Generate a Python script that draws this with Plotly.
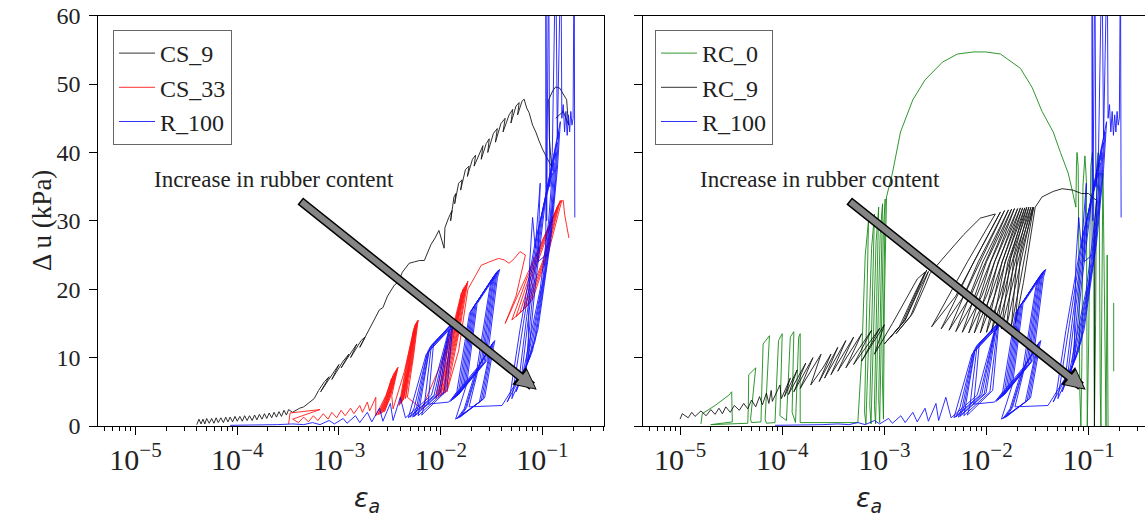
import plotly.graph_objects as go

# ---------------- data (axial strain, excess pore pressure in kPa) ----------------
cs9 = [
    (4.0e-5, 0.2), (4.2e-5, 1.0), (4.4e-5, 0.3), (4.6e-5, 1.0), (4.8e-5, 0.3), (5.0e-5, 1.1),
    (5.3e-5, 0.4), (5.6e-5, 1.1), (5.9e-5, 0.4), (6.2e-5, 1.2), (6.5e-5, 0.5), (6.9e-5, 1.2),
    (7.3e-5, 0.5), (7.7e-5, 1.3), (8.1e-5, 0.6), (8.5e-5, 1.3), (9.0e-5, 0.6), (9.5e-5, 1.4),
    (1.0e-4, 0.7), (1.06e-4, 1.4), (1.12e-4, 0.7), (1.18e-4, 1.5), (1.25e-4, 0.8), (1.32e-4, 1.5),
    (1.4e-4, 0.8), (1.48e-4, 1.6), (1.56e-4, 0.9), (1.65e-4, 1.7), (1.75e-4, 1.0), (1.85e-4, 1.8),
    (1.95e-4, 1.1), (2.06e-4, 1.9), (2.18e-4, 1.2), (2.3e-4, 2.0), (2.43e-4, 1.3), (2.57e-4, 2.1),
    (2.72e-4, 1.4), (2.88e-4, 2.3), (3.04e-4, 1.6), (3.2e-4, 2.4), (3.5e-4, 2.0), (4.1e-4, 2.6),
    (4.5e-4, 2.8), (5.0e-4, 3.4), (5.7e-4, 4.0), (6.3e-4, 5.2), (7.2e-4, 6.5), (8.0e-4, 7.2),
    (6.6e-4, 5.0), (9.0e-4, 8.0), (1.0e-3, 9.0), (8.5e-4, 6.8), (1.1e-3, 9.5), (1.25e-3, 10.5),
    (1.05e-3, 8.5), (1.35e-3, 11.0), (1.5e-3, 12.0), (1.3e-3, 10.0), (1.65e-3, 12.5), (1.8e-3, 13.0),
    (1.6e-3, 11.5), (1.9e-3, 13.5), (2.2e-3, 15.5), (2.5e-3, 17.0), (2.7e-3, 17.3), (3.0e-3, 19.0),
    (3.5e-3, 20.6), (3.8e-3, 21.0), (4.2e-3, 22.5), (4.9e-3, 23.8), (5.5e-3, 24.0), (6.2e-3, 24.2),
    (6.9e-3, 24.2), (7.5e-3, 25.5), (8.0e-3, 26.5), (8.8e-3, 27.5), (9.6e-3, 28.6), (1.08e-2, 26.0),
    (1.1e-2, 29.0), (1.2e-2, 30.5), (1.29e-2, 31.5), (1.25e-2, 30.0), (1.35e-2, 33.5), (1.41e-2, 34.0),
    (1.37e-2, 32.5), (1.5e-2, 35.5), (1.62e-2, 36.0), (1.57e-2, 34.5), (1.75e-2, 37.5), (1.9e-2, 38.0),
    (1.83e-2, 36.5), (2.05e-2, 39.0), (2.2e-2, 39.6), (2.13e-2, 38.0), (2.4e-2, 39.8), (2.6e-2, 41.0),
    (2.5e-2, 39.0), (2.8e-2, 41.3), (3.0e-2, 42.0), (2.9e-2, 40.0), (3.3e-2, 42.8), (3.6e-2, 43.5),
    (3.45e-2, 41.5), (3.9e-2, 44.2), (4.3e-2, 45.0), (4.1e-2, 43.0), (4.7e-2, 45.5), (5.1e-2, 46.3),
    (4.9e-2, 44.3), (5.5e-2, 46.8), (5.9e-2, 47.3), (5.7e-2, 45.5), (6.3e-2, 47.5), (6.6e-2, 47.8),
    (7.0e-2, 46.5), (7.4e-2, 45.8), (8.0e-2, 44.0), (8.6e-2, 43.0), (9.2e-2, 41.8), (1.0e-1, 40.5),
    (1.1e-1, 39.3), (1.23e-1, 37.9), (1.17e-1, 42.0), (1.15e-1, 47.7), (1.26e-1, 49.0), (1.35e-1, 49.6),
    (1.48e-1, 49.4), (1.62e-1, 48.5), (1.73e-1, 47.7), (1.78e-1, 45.0), (1.81e-1, 44.0), (1.6e-1, 46.0),
    (1.45e-1, 45.5), (1.35e-1, 45.0),
]

cs33 = [
    (3.2e-4, 0.3), (3.3e-4, 1.9), (6.5e-4, 2.4), (3.5e-4, 1.0), (4.0e-4, 0.5), (4.5e-4, 1.3),
    (5.0e-4, 0.6), (5.6e-4, 1.5), (6.2e-4, 0.8), (7.0e-4, 1.8), (7.8e-4, 1.0), (8.5e-4, 2.0),
    (9.5e-4, 1.2), (1.05e-3, 2.3), (1.15e-3, 1.5), (1.3e-3, 2.6), (1.4e-3, 1.8), (1.6e-3, 3.0),
    (1.7e-3, 2.0), (1.9e-3, 3.5), (2.0e-3, 2.2), (2.3e-3, 4.2),
    (2.3e-3, 1.5), (2.9e-3, 4.5), (3.3e-3, 7.0), (2.8e-3, 3.5),
    (2.4e-3, 1.6), (3.0e-3, 4.8), (3.4e-3, 7.4), (2.9e-3, 3.6),
    (2.5e-3, 1.7), (3.1e-3, 5.0), (3.5e-3, 7.8), (3.0e-3, 3.8),
    (2.6e-3, 1.8), (3.2e-3, 5.3), (3.6e-3, 8.1), (3.1e-3, 4.0),
    (2.7e-3, 2.0), (3.3e-3, 5.5), (3.7e-3, 8.4), (3.2e-3, 4.2),
    (2.8e-3, 2.1), (3.4e-3, 5.8), (3.8e-3, 8.6), (3.3e-3, 4.4),
    (3.4e-3, 2.5), (4.4e-3, 8.0), (5.4e-3, 14.0), (4.8e-3, 8.5), (3.9e-3, 3.0),
    (4.5e-3, 8.3), (5.5e-3, 14.4), (4.9e-3, 8.8), (4.0e-3, 3.2),
    (4.6e-3, 8.6), (5.6e-3, 14.8), (5.0e-3, 9.0), (4.1e-3, 3.4),
    (4.7e-3, 8.9), (5.7e-3, 15.0), (5.1e-3, 9.3), (4.2e-3, 3.6),
    (4.8e-3, 9.2), (5.8e-3, 15.2), (5.2e-3, 9.6), (4.3e-3, 3.8),
    (4.9e-3, 9.5), (5.9e-3, 15.4), (5.3e-3, 9.9), (4.5e-3, 4.0),
    (5.0e-3, 9.8), (6.0e-3, 15.5), (5.4e-3, 10.2), (4.7e-3, 4.2),
    (6.5e-3, 2.5), (1.0e-2, 9.0), (1.4e-2, 16.0), (1.6e-2, 19.5), (1.3e-2, 12.0), (9.0e-3, 4.0),
    (1.05e-2, 9.5), (1.45e-2, 16.5), (1.65e-2, 20.0), (1.35e-2, 12.5), (9.5e-3, 4.2),
    (1.1e-2, 10.0), (1.5e-2, 17.0), (1.7e-2, 20.3), (1.4e-2, 13.0), (1.0e-2, 4.4),
    (1.15e-2, 10.5), (1.55e-2, 17.5), (1.75e-2, 20.6), (1.45e-2, 13.5), (1.05e-2, 4.6),
    (1.2e-2, 11.0), (1.6e-2, 18.0), (1.8e-2, 20.9), (1.5e-2, 14.0), (1.1e-2, 4.8),
    (1.25e-2, 11.5), (1.65e-2, 18.5), (1.85e-2, 21.2), (1.55e-2, 14.5), (1.15e-2, 5.0),
    (1.5e-2, 11.0), (1.85e-2, 20.0), (2.2e-2, 22.0), (2.5e-2, 23.5), (3.0e-2, 24.0), (3.7e-2, 24.5),
    (4.2e-2, 24.3), (4.7e-2, 23.8), (5.3e-2, 24.5), (6.0e-2, 25.5), (6.8e-2, 25.0), (5.5e-2, 19.0),
    (4.3e-2, 15.0), (6.5e-2, 21.0), (9.5e-2, 26.5), (1.25e-1, 30.5), (1.4e-1, 32.0), (1.0e-1, 24.0), (6.5e-2, 17.0),
    (5.0e-2, 15.5), (7.0e-2, 21.5), (1.0e-1, 27.0), (1.3e-1, 31.0), (1.45e-1, 32.5), (1.05e-1, 24.5), (7.0e-2, 17.5),
    (5.5e-2, 16.0), (7.5e-2, 22.0), (1.05e-1, 27.5), (1.35e-1, 31.5), (1.5e-1, 33.0), (1.1e-1, 25.0), (7.5e-2, 18.0),
    (6.0e-2, 16.5), (8.0e-2, 22.5), (1.1e-1, 28.0), (1.4e-1, 32.0), (1.55e-1, 33.0), (1.15e-1, 25.5), (8.0e-2, 18.5),
    (6.5e-2, 17.0), (8.5e-2, 23.0), (1.15e-1, 28.5), (1.45e-1, 32.5), (1.6e-1, 33.0), (1.65e-1, 31.0),
    (1.72e-1, 29.5), (1.82e-1, 27.5),
]

r100 = [
    (8.5e-5, 0.1), (1.5e-4, 0.1), (2.5e-4, 0.2), (3.5e-4, 0.3), (4.5e-4, 0.2), (5.5e-4, 0.5),
    (6.5e-4, 0.2), (8.0e-4, 0.8), (9.0e-4, 0.3), (1.1e-3, 1.1), (1.2e-3, 0.4), (1.45e-3, 1.5),
    (1.6e-3, 0.5), (1.9e-3, 2.0), (2.1e-3, 0.6), (2.5e-3, 2.6), (2.7e-3, 0.7), (3.2e-3, 3.3),
    (3.4e-3, 0.8), (4.0e-3, 4.2),
    (4.5e-3, 1.2), (8.1e-3, 4.5), (1.14e-2, 13.0), (1.2e-2, 14.0), (7.2e-3, 10.5), (5.2e-3, 2.7),
    (4.8e-3, 1.2), (8.6e-3, 4.5), (1.17e-2, 13.2), (1.22e-2, 14.2), (7.4e-3, 10.7), (5.5e-3, 2.7),
    (5.0e-3, 1.3), (9.0e-3, 4.6), (1.19e-2, 13.5), (1.25e-2, 14.5), (7.5e-3, 11.0), (5.8e-3, 2.8),
    (5.3e-3, 1.3), (9.5e-3, 4.7), (1.21e-2, 13.8), (1.28e-2, 14.8), (7.7e-3, 11.2), (6.0e-3, 2.8),
    (5.5e-3, 1.4), (9.9e-3, 4.8), (1.24e-2, 14.0), (1.3e-2, 15.0), (7.8e-3, 11.5), (6.3e-3, 2.9),
    (6.0e-3, 1.5), (1.08e-2, 5.0), (1.28e-2, 14.3), (1.35e-2, 15.3), (8.1e-3, 11.8), (6.9e-3, 3.0),
    (6.5e-3, 1.6), (1.15e-2, 5.2), (1.31e-2, 14.5), (1.38e-2, 15.5), (8.5e-3, 12.0), (7.5e-3, 3.2),
    (1.2e-2, 3.5), (2.28e-2, 8.5), (3.04e-2, 20.3), (3.2e-2, 21.5), (1.92e-2, 16.5), (1.44e-2, 5.0),
    (1.25e-2, 3.6), (2.37e-2, 8.6), (3.13e-2, 20.6), (3.3e-2, 21.8), (1.98e-2, 16.8), (1.5e-2, 5.1),
    (1.3e-2, 3.8), (2.47e-2, 8.8), (3.23e-2, 20.9), (3.4e-2, 22.1), (2.04e-2, 17.1), (1.56e-2, 5.3),
    (1.35e-2, 4.0), (2.56e-2, 9.0), (3.32e-2, 21.2), (3.5e-2, 22.4), (2.1e-2, 17.4), (1.62e-2, 5.5),
    (1.4e-2, 4.2), (2.66e-2, 9.2), (3.42e-2, 21.4), (3.6e-2, 22.6), (2.16e-2, 17.6), (1.68e-2, 5.7),
    (1.45e-2, 4.4), (2.75e-2, 9.4), (3.51e-2, 21.6), (3.7e-2, 22.8), (2.22e-2, 17.8), (1.74e-2, 5.9),
    (1.5e-2, 4.6), (2.85e-2, 9.6), (3.61e-2, 21.7), (3.8e-2, 22.9), (2.28e-2, 17.9), (1.8e-2, 6.1),
    (1.4e-2, 1.0), (2.4e-2, 3.5), (3.0e-2, 10.5), (3.1e-2, 11.5), (2.2e-2, 8.0), (1.7e-2, 2.5),
    (1.45e-2, 1.1), (2.5e-2, 3.7), (3.1e-2, 11.0), (3.2e-2, 12.0), (2.3e-2, 8.4), (1.75e-2, 2.6),
    (1.5e-2, 1.2), (2.6e-2, 3.9), (3.2e-2, 11.3), (3.3e-2, 12.3), (2.35e-2, 8.7), (1.8e-2, 2.7),
    (1.55e-2, 1.3), (2.7e-2, 4.1), (3.3e-2, 11.5), (3.4e-2, 12.5), (2.4e-2, 9.0), (1.9e-2, 2.8),
    (4.0e-2, 3.0), (6.5e-2, 8.0), (9.5e-2, 20.0), (1.15e-1, 30.0), (1.25e-1, 37.0), (8.5e-2, 27.0), (6.0e-2, 14.0), (4.8e-2, 4.5),
    (4.5e-2, 3.5), (7.0e-2, 9.0), (1.0e-1, 21.0), (1.2e-1, 31.0), (1.3e-1, 38.5), (9.0e-2, 28.5), (6.5e-2, 15.0), (5.2e-2, 5.0),
    (5.0e-2, 4.0), (7.5e-2, 10.0), (1.05e-1, 22.5), (1.25e-1, 32.5), (1.35e-1, 40.0), (9.5e-2, 30.0), (7.0e-2, 16.0), (5.8e-2, 6.0),
    (5.5e-2, 5.0), (8.0e-2, 11.0), (1.1e-1, 24.0), (1.3e-1, 34.0), (1.4e-1, 41.5), (1.0e-1, 31.5), (7.5e-2, 17.5), (6.2e-2, 7.0),
    (6.0e-2, 6.0), (8.5e-2, 12.5), (1.15e-1, 25.5), (1.35e-1, 36.0), (1.45e-1, 43.0), (1.05e-1, 33.0), (8.0e-2, 19.0), (6.8e-2, 8.0),
    (6.5e-2, 7.5), (9.0e-2, 14.0), (1.2e-1, 27.0), (1.4e-1, 37.5), (1.5e-1, 44.5), (1.1e-1, 34.5), (8.5e-2, 20.5), (7.2e-2, 9.5),
    (7.5e-2, 24.0), (8.0e-2, 30.5), (8.5e-2, 26.0), (9.5e-2, 35.5), (9.0e-2, 24.0), (1.08e-1, 25.0),
    (1.08e-1, 70.0), (1.1e-1, 30.0), (1.15e-1, 70.0), (1.18e-1, 35.0), (1.25e-1, 40.0), (1.35e-1, 70.0),
    (1.4e-1, 42.0), (1.52e-1, 70.0), (1.55e-1, 45.0), (1.6e-1, 47.0), (1.65e-1, 43.0), (1.7e-1, 46.0),
    (1.75e-1, 42.5), (1.8e-1, 45.5), (1.85e-1, 43.0), (1.9e-1, 46.0), (1.95e-1, 44.0), (2.0e-1, 45.0),
    (2.05e-1, 70.0), (2.08e-1, 30.5),
]

rc0 = [
    (1.6e-5, 0.3), (1.65e-5, 1.8), (2.2e-5, 3.0), (3.0e-5, 4.5), (3.2e-5, 5.0), (3.25e-5, 0.6),
    (2.0e-5, 0.2), (3.3e-5, 0.3), (4.6e-5, 0.4), (4.65e-5, 2.5), (4.7e-5, 7.5), (5.5e-5, 8.5),
    (4.9e-5, 1.0), (5.0e-5, 0.5), (6.2e-5, 0.6), (6.3e-5, 5.0), (6.5e-5, 12.0), (7.5e-5, 13.2),
    (6.8e-5, 1.0), (7.0e-5, 0.4), (8.5e-5, 0.5), (8.8e-5, 6.0), (9.2e-5, 12.5), (1.0e-4, 13.5),
    (9.5e-5, 1.5), (1.1e-4, 0.8), (1.15e-4, 7.0), (1.2e-4, 13.0), (1.3e-4, 13.8), (1.25e-4, 2.0),
    (1.35e-4, 0.5), (1.4e-4, 8.0), (1.45e-4, 13.0), (1.5e-4, 13.5), (1.48e-4, 1.0), (1.5e-4, 0.5),
    (5.5e-4, 0.5), (6.0e-4, 10.0), (6.5e-4, 25.0), (7.0e-4, 30.0), (6.4e-4, 2.0), (6.6e-4, 0.3),
    (7.0e-4, 12.0), (7.5e-4, 26.0), (8.0e-4, 31.0), (7.2e-4, 3.0), (7.4e-4, 0.3), (7.8e-4, 14.0),
    (8.3e-4, 27.0), (8.8e-4, 32.0), (8.0e-4, 3.0), (8.2e-4, 0.3), (8.6e-4, 15.0), (9.1e-4, 28.0),
    (9.6e-4, 32.5), (8.8e-4, 4.0), (9.0e-4, 0.5), (9.4e-4, 16.0), (9.8e-4, 29.0), (1.02e-3, 33.2),
    (9.6e-4, 6.0), (9.8e-4, 1.0), (1.0e-3, 18.0), (1.05e-3, 33.5), (1.2e-3, 37.0), (1.44e-3, 43.0),
    (1.9e-3, 47.7), (2.5e-3, 50.6), (3.7e-3, 53.2), (5.2e-3, 54.4), (7.5e-3, 54.7), (9.8e-3, 54.7),
    (1.37e-2, 54.4), (2.15e-2, 52.3), (2.8e-2, 49.5), (3.5e-2, 46.0), (4.5e-2, 43.0), (5.3e-2, 40.0),
    (6.3e-2, 37.0), (6.9e-2, 34.5), (7.5e-2, 32.0), (7.6e-2, 38.0), (7.7e-2, 40.0), (7.9e-2, 38.0),
    (8.0e-2, 25.0), (8.2e-2, 5.0), (8.4e-2, 0.0), (8.6e-2, 10.0), (8.8e-2, 35.0), (9.2e-2, 39.5),
    (9.5e-2, 36.0), (9.6e-2, 15.0), (9.7e-2, 0.0), (1.0e-1, 12.0), (1.05e-1, 38.0), (1.09e-1, 40.0),
    (1.12e-1, 35.0), (1.13e-1, 10.0), (1.14e-1, 0.0), (1.17e-1, 15.0), (1.2e-1, 38.0), (1.24e-1, 40.0),
    (1.27e-1, 33.0), (1.3e-1, 5.0), (1.32e-1, 0.0), (1.35e-1, 20.0), (1.38e-1, 37.0), (1.4e-1, 30.0),
    (1.45e-1, 5.0), (1.48e-1, 0.0), (1.5e-1, 12.0), (1.52e-1, 25.0), (1.55e-1, 0.0),
    (None, None), (1.76e-1, 8.0), (1.76e-1, 18.0),
]

rc9 = [
    (1.0e-5, 1.0), (1.05e-5, 1.8), (1.2e-5, 1.2), (1.3e-5, 2.0), (1.4e-5, 1.4), (1.6e-5, 2.2),
    (1.8e-5, 1.5), (2.0e-5, 2.4), (2.2e-5, 1.7), (2.4e-5, 2.6), (2.6e-5, 1.8), (2.8e-5, 2.8),
    (3.1e-5, 2.0), (3.4e-5, 3.0), (3.8e-5, 2.3), (4.2e-5, 3.3), (4.6e-5, 2.5), (5.0e-5, 3.8),
    (5.5e-5, 2.8), (6.0e-5, 4.3), (6.4e-5, 3.1), (7.0e-5, 4.8), (7.4e-5, 3.3), (7.8e-5, 5.2),
    (8.0e-5, 3.6), (9.5e-5, 6.0), (9.8e-5, 4.0), (1.2e-4, 7.0),
    (1.05e-4, 4.3), (1.4e-4, 8.2), (1.15e-4, 4.6), (1.7e-4, 9.2), (1.3e-4, 5.0), (2.0e-4, 10.0),
    (1.5e-4, 5.5), (2.4e-4, 10.5), (1.9e-4, 6.0), (2.5e-4, 8.5), (3.0e-4, 10.5), (2.3e-4, 6.5),
    (3.5e-4, 11.5), (2.6e-4, 7.0), (4.2e-4, 12.5), (3.0e-4, 7.5), (5.0e-4, 13.0), (3.5e-4, 8.0),
    (6.0e-4, 13.5), (4.2e-4, 8.5), (7.5e-4, 14.0), (5.0e-4, 9.0), (9.0e-4, 14.3), (6.0e-4, 9.5),
    (1.0e-3, 14.8), (8.0e-4, 10.5), (1.2e-3, 15.0), (1.7e-3, 19.0), (2.1e-3, 21.5), (2.5e-3, 22.5),
    (1.5e-3, 15.0), (1.0e-3, 12.0), (1.4e-3, 14.5), (2.0e-3, 19.5), (2.6e-3, 22.8), (1.6e-3, 15.5),
    (1.15e-3, 13.0), (1.6e-3, 15.5), (2.2e-3, 20.0), (2.7e-3, 22.6), (1.8e-3, 16.0), (1.3e-3, 13.5),
    (1.9e-3, 16.5), (2.5e-3, 20.5), (2.8e-3, 22.3), (4.0e-3, 25.0), (6.0e-3, 28.0), (8.7e-3, 30.4),
    (1.22e-2, 31.0), (6.5e-3, 24.0), (2.9e-3, 14.5), (5.0e-3, 19.0), (1.37e-2, 31.3), (7.5e-3, 24.0),
    (3.6e-3, 14.2), (6.0e-3, 19.0), (1.5e-2, 31.5), (8.3e-3, 24.0), (4.3e-3, 14.0), (7.0e-3, 19.0),
    (1.64e-2, 31.6), (9.2e-3, 24.0), (5.0e-3, 13.8), (8.0e-3, 19.0), (1.76e-2, 31.7), (1.0e-2, 24.0),
    (5.8e-3, 13.7), (9.0e-3, 19.0), (1.88e-2, 31.8), (1.1e-2, 24.0), (6.7e-3, 13.6), (1.0e-2, 19.0),
    (2.02e-2, 31.8), (1.2e-2, 24.0), (7.6e-3, 13.6), (1.1e-2, 19.0), (2.15e-2, 31.9), (1.3e-2, 24.0),
    (8.7e-3, 13.6), (1.2e-2, 19.0), (2.26e-2, 31.9), (1.42e-2, 24.0), (1.0e-2, 13.7), (1.35e-2, 19.0),
    (2.37e-2, 31.9), (1.52e-2, 24.0), (1.12e-2, 13.8), (1.48e-2, 19.5), (2.48e-2, 32.0), (1.62e-2, 24.0),
    (1.25e-2, 14.0), (1.6e-2, 19.5), (2.6e-2, 32.0), (1.72e-2, 24.5), (1.4e-2, 14.2), (1.75e-2, 20.0),
    (2.72e-2, 32.0), (1.85e-2, 24.5), (1.57e-2, 14.5), (1.9e-2, 20.0), (2.84e-2, 32.0), (2.0e-2, 25.0),
    (1.76e-2, 14.8), (2.1e-2, 20.5), (2.9e-2, 32.0), (2.15e-2, 25.0), (1.92e-2, 15.0), (2.3e-2, 21.0),
    (3.0e-2, 32.0), (3.5e-2, 33.5), (4.5e-2, 34.3), (5.5e-2, 34.7), (7.0e-2, 34.5), (8.5e-2, 34.0),
    (1.0e-1, 34.0), (1.12e-1, 33.3), (1.2e-1, 33.0), (1.15e-1, 30.0), (1.14e-1, 10.0), (1.14e-1, 0.0),
]

left_series = [("CS_9", cs9, "black"), ("CS_33", cs33, "red"), ("R_100", r100, "blue")]
right_series = [("RC_0", rc0, "green"), ("RC_9", rc9, "black"), ("R_100", r100, "blue")]

y_ticks = [0, 10, 20, 30, 40, 50, 60]
annot_text = "Increase in rubber content"

# ---------------- figure ----------------
W, H = 1145, 522
fig = go.Figure()


def xy(pts):
    return [p[0] for p in pts], [p[1] for p in pts]


for name, pts, col in left_series:
    x, y = xy(pts)
    fig.add_trace(go.Scatter(x=x, y=y, mode="lines", name=name, line=dict(color=col, width=0.9),
                             opacity=0.9, xaxis="x", yaxis="y", legend="legend"))
for name, pts, col in right_series:
    x, y = xy(pts)
    fig.add_trace(go.Scatter(x=x, y=y, mode="lines", name=name, line=dict(color=col, width=0.9),
                             opacity=0.9, xaxis="x2", yaxis="y2", legend="legend2"))

serif = "Liberation Serif"
axis_common = dict(type="log", dtick=1, showgrid=False, zeroline=False, ticks="outside", ticklen=8,
                   tickwidth=1.2, tickcolor="black", linecolor="black", linewidth=1.2,
                   exponentformat="power", tickfont=dict(family=serif, size=24, color="#222"),
                   minor=dict(ticks="outside", ticklen=4, tickwidth=1, tickcolor="black", showgrid=False),
                   automargin=False)
ydom = [(H - 426) / H, (H - 15.7) / H]
leg_common = dict(xanchor="left", yanchor="top", bgcolor="white", bordercolor="#666", borderwidth=1,
                  font=dict(family=serif, size=24, color="#222"), tracegroupgap=0, itemwidth=36)
fig.update_layout(
    width=W, height=H, margin=dict(l=0, r=0, t=0, b=0),
    paper_bgcolor="white", plot_bgcolor="white",
    xaxis=dict(domain=[98.3 / W, 604 / W], range=[-5.366, -0.395], mirror=True, anchor="y", **axis_common),
    xaxis2=dict(domain=[642.7 / W, 1.0], range=[-5.366, -0.448], mirror=True, anchor="y2", **axis_common),
    yaxis=dict(domain=ydom, range=[0, 60], tickvals=y_ticks, showgrid=False, zeroline=False,
               ticks="outside", ticklen=8, tickwidth=1.2, tickcolor="black", linecolor="black",
               linewidth=1.2, mirror=True, anchor="x", automargin=False, ticklabelstandoff=4,
               tickfont=dict(family=serif, size=24, color="#222")),
    yaxis2=dict(domain=ydom, range=[0, 60], tickvals=y_ticks, showgrid=False, zeroline=False,
                ticks="outside", ticklen=8, tickwidth=1.2, tickcolor="black", linecolor="black",
                linewidth=1.2, mirror=False, anchor="x2", showticklabels=False, automargin=False),
    legend=dict(x=113 / W, y=1 - 30 / H, **leg_common),
    legend2=dict(x=655 / W, y=1 - 30 / H, **leg_common),
    showlegend=True,
)

annotations = []
# axis titles
for cx in (352, 884):
    annotations.append(dict(xref="paper", yref="paper", x=cx / W, y=1 - 519 / H, showarrow=False,
                            text="<i>ε</i><sub><i>a</i></sub>",
                            font=dict(family="DejaVu Sans", size=27, color="#222")))
annotations.append(dict(xref="paper", yref="paper", x=25 / W, y=1 - 221 / H, showarrow=False,
                        text="Δ u (kPa)", textangle=-90,
                        font=dict(family=serif, size=27, color="#222")))
# arrows (outline then fill) and text
for xa, ya, hx in (("x", "y", -1.056), ("x2", "y2", -1.029)):
    annotations.append(dict(xref=xa, yref=ya, x=hx, y=5.3, ax=-238, ay=-190, showarrow=True,
                            arrowhead=2, arrowsize=0.5, arrowwidth=9, arrowcolor="black", text=""))
    annotations.append(dict(xref=xa, yref=ya, x=hx, y=5.3, ax=-238, ay=-190, showarrow=True,
                            arrowhead=2, arrowsize=0.6, arrowwidth=6, arrowcolor="#858585", text="",
                            standoff=2, startstandoff=1.5))
for xa, ya in (("x", "y"), ("x2", "y2")):
    annotations.append(dict(xref=xa, yref=ya, x=-3.635, y=36.0, showarrow=False, text=annot_text,
                            font=dict(family=serif, size=23, color="#222")))
fig.update_layout(annotations=annotations)

fig.write_html("out.html")
